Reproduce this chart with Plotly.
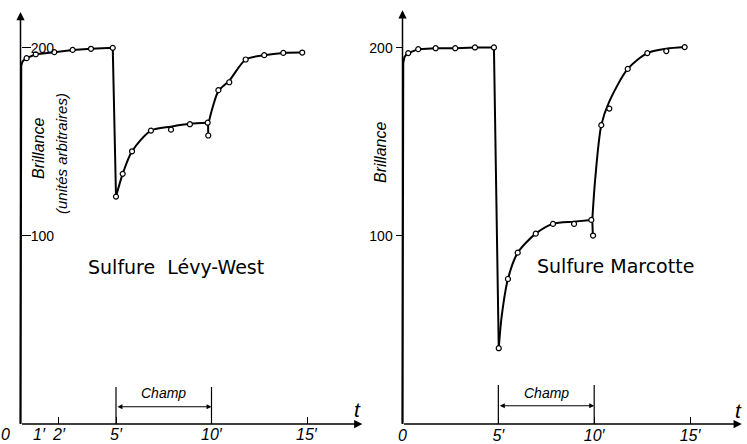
import plotly.graph_objects as go

# ---------------- data ----------------
# measured points (open circles)
left_pts_t = [0.32, 0.80, 1.77, 2.73, 3.69, 4.83, 5.00, 5.35, 5.84, 6.83, 7.88, 8.87, 9.80, 9.83,
              10.36, 10.93, 11.79, 12.76, 13.76, 14.75]
left_pts_v = [194.5, 196.6, 197.7, 198.9, 199.5, 200.0, 120.9, 133.0, 145.0, 156.0, 156.5, 159.4,
              160.2, 153.4, 177.5, 181.7, 193.8, 196.1, 197.3, 197.5]

right_pts_t = [0.30, 0.82, 1.73, 2.75, 3.78, 4.77, 5.02, 5.50, 6.01, 6.95, 7.85, 8.95, 9.85, 9.94,
               10.37, 10.79, 11.75, 12.77, 13.76, 14.72]
right_pts_v = [197.2, 199.3, 199.8, 199.8, 200.2, 200.2, 40.3, 77.1, 91.1, 101.2, 106.4, 106.4,
               108.5, 100.2, 158.9, 167.7, 188.8, 197.2, 198.3, 200.4]

# drawn curve (knots)
left_rise_t = [0, 0.01, 0.04, 0.10, 0.20, 0.32, 0.80, 1.77, 2.73, 3.69, 4.83, 5.00]
left_rise_v = [0, 186, 190.5, 192.6, 193.8, 194.5, 196.6, 197.7, 198.9, 199.5, 200.0, 120.9]
left_recov_t = [5.00, 5.35, 5.84, 6.83, 7.88, 8.87, 9.80]
left_recov_v = [120.9, 133.0, 145.0, 156.0, 158.1, 159.6, 160.2]
left_stub_t = [9.82, 9.83]
left_stub_v = [160.2, 153.4]
left_rerise_t = [9.85, 10.05, 10.36, 10.93, 11.79, 12.76, 13.76, 14.75]
left_rerise_v = [160.2, 168.0, 177.0, 182.5, 193.8, 196.1, 197.3, 197.5]

right_rise_t = [0, 0.01, 0.04, 0.10, 0.20, 0.30, 0.82, 1.73, 2.75, 3.78, 4.77, 5.02]
right_rise_v = [0, 186, 192.0, 195.0, 196.5, 197.2, 199.3, 199.8, 199.8, 200.2, 200.2, 40.3]
right_recov_t = [5.02, 5.17, 5.50, 6.01, 6.95, 7.85, 8.95, 9.85]
right_recov_v = [40.3, 57.0, 77.1, 91.1, 101.2, 106.4, 107.6, 108.5]
right_stub_t = [9.90, 9.93]
right_stub_v = [108.5, 100.2]
right_rerise_t = [9.90, 10.05, 10.37, 10.79, 11.75, 12.77, 13.76, 14.72]
right_rerise_v = [108.5, 130.0, 158.9, 171.5, 188.8, 197.2, 199.5, 200.4]

left_xtick_vals = [1, 2, 5, 10, 15]
left_xtick_text = ["1\u2032", "2\u2032", "5\u2032", "10\u2032", "15\u2032"]
left_origin_label = "0"
right_xtick_vals = [0, 5, 10, 15]
right_xtick_text = ["0", "5\u2032", "10\u2032", "15\u2032"]
ytick_vals = [100, 200]
ytick_text = ["100", "200"]

field_start, field_end = 5, 10

# ---------------- figure ----------------
FONT = "Liberation Sans, Arial, DejaVu Sans, sans-serif"
WIDE = "DejaVu Sans, Liberation Sans, sans-serif"
fig = go.Figure()

def add_curve(t, v, xa, ya, shape):
    fig.add_trace(go.Scatter(x=t, y=v, xaxis=xa, yaxis=ya, mode="lines",
                             line=dict(color="black", width=2, shape=shape, smoothing=0.8),
                             hoverinfo="skip", showlegend=False))

for xa, ya, parts in [
    ("x", "y", [(left_rise_t, left_rise_v, "linear"), (left_recov_t, left_recov_v, "spline"),
                (left_stub_t, left_stub_v, "linear"), (left_rerise_t, left_rerise_v, "spline")]),
    ("x2", "y2", [(right_rise_t, right_rise_v, "linear"), (right_recov_t, right_recov_v, "spline"),
                  (right_stub_t, right_stub_v, "linear"), (right_rerise_t, right_rerise_v, "spline")]),
]:
    for t, v, s in parts:
        add_curve(t, v, xa, ya, s)

for t, v, xa, ya in [(left_pts_t, left_pts_v, "x", "y"), (right_pts_t, right_pts_v, "x2", "y2")]:
    fig.add_trace(go.Scatter(x=t, y=v, xaxis=xa, yaxis=ya, mode="markers",
                             marker=dict(size=5, color="white", line=dict(color="black", width=1.2)),
                             hoverinfo="skip", showlegend=False))

W, H = 747, 444
ypx = 1.8808  # px per unit
y0px = 424
ydom0 = (H - (y0px + 1 * ypx)) / H
xpos_axis = 1 - y0px / H

TICKFONT_X = dict(family=FONT, size=16, color="black", style="italic")
common_x = dict(showgrid=False, zeroline=False, showline=False, ticks="inside", ticklen=7,
                tickwidth=1.3, tickcolor="black", anchor="free", position=xpos_axis, tickangle=0,
                tickfont=TICKFONT_X)
fig.update_layout(
    width=W, height=H, margin=dict(l=0, r=0, t=0, b=0),
    paper_bgcolor="white", plot_bgcolor="white",
    xaxis=dict(domain=[(20.5 - 0.2 * 19.1) / W, 365 / W], range=[-0.2, 344.5 / 19.1],
               tickmode="array", tickvals=left_xtick_vals, showticklabels=False, **common_x),
    xaxis2=dict(domain=[(402.5 - 0.2 * 19.17) / W, 1], range=[-0.2, 344.5 / 19.17],
                tickmode="array", tickvals=right_xtick_vals, ticktext=right_xtick_text, **common_x),
    yaxis=dict(domain=[ydom0, 1], range=[-1, y0px / ypx], showgrid=False, zeroline=False,
               showline=False, anchor="free", position=20.5 / W, ticks="inside", ticklen=9,
               tickwidth=1.3, tickcolor="black", ticklabelposition="inside",
               tickmode="array", tickvals=ytick_vals, ticktext=ytick_text,
               tickfont=dict(family=FONT, size=14, color="black")),
    yaxis2=dict(domain=[ydom0, 1], range=[-1, y0px / ypx], showgrid=False, zeroline=False,
                showline=False, anchor="free", position=402.5 / W, ticks="outside", ticklen=7,
                tickwidth=1.3, tickcolor="black", ticklabelposition="outside",
                tickmode="array", tickvals=ytick_vals, ticktext=ytick_text,
                tickfont=dict(family=FONT, size=14, color="black")),
)

anns = []
shapes = []
# left panel x tick labels (placed on the left x axis scale)
for tv, tt in zip(left_xtick_vals, left_xtick_text):
    anns.append(dict(x=tv, y=1 - 434 / H, xref="x", yref="paper", text=tt, showarrow=False,
                     xanchor="center", yanchor="middle", font=TICKFONT_X))

# axis arrows
for xr, yr, xend, yend in [("x", "y", 17.9, 219), ("x2", "y2", 17.7, 220)]:
    anns.append(dict(x=xend, y=0, ax=0, ay=0, xref=xr, yref=yr, axref=xr, ayref=yr, text="",
                     showarrow=True, arrowhead=2, arrowsize=1.1, arrowwidth=1.5, arrowcolor="black"))
    anns.append(dict(x=0, y=yend, ax=0, ay=0, xref=xr, yref=yr, axref=xr, ayref=yr, text="",
                     showarrow=True, arrowhead=2, arrowsize=1.1, arrowwidth=1.5, arrowcolor="black"))

# "Champ" field markers
for xr, yr, top, ay_arrow in [("x", "y", 19.7, 9.2), ("x2", "y2", 20.7, 9.7)]:
    for tx in (field_start, field_end):
        shapes.append(dict(type="line", xref=xr, yref=yr, x0=tx, x1=tx, y0=0, y1=top,
                           line=dict(color="black", width=1.2)))
    anns.append(dict(x=field_end, y=ay_arrow, ax=field_start, ay=ay_arrow, xref=xr, yref=yr,
                     axref=xr, ayref=yr, text="", showarrow=True, arrowhead=2, arrowside="end+start",
                     arrowsize=0.9, arrowwidth=1.1, arrowcolor="black"))
    anns.append(dict(x=(field_start + field_end) / 2, y=16.5, xref=xr, yref=yr, text="Champ",
                     showarrow=False, font=dict(family=FONT, size=14, color="black", style="italic")))

def ptxt(px, py, text, size, italic=False, angle=0, family=FONT):
    anns.append(dict(x=px / W, y=1 - py / H, xref="paper", yref="paper", text=text, showarrow=False,
                     textangle=angle, xanchor="center", yanchor="middle",
                     font=dict(family=family, size=size, color="black",
                               style="italic" if italic else "normal")))

ptxt(38, 149, "Brillance", 16, True, -90)
ptxt(61, 154, "(unités arbitraires)", 15, True, -90)
ptxt(381, 153, "Brillance", 16, True, -90)
ptxt(176, 267, "Sulfure\u00a0\u00a0Lévy-West", 19, family=WIDE)
ptxt(615, 266, "Sulfure Marcotte", 19, family=WIDE)
ptxt(357, 409, "t", 21, True)
ptxt(738, 410, "t", 21, True)
ptxt(6, 434, left_origin_label, 16, True)

fig.update_layout(annotations=anns, shapes=shapes)
fig.write_html("out.html", config={"displayModeBar": False},
               post_script="document.body.style.margin='0';document.body.style.overflow='hidden';")
